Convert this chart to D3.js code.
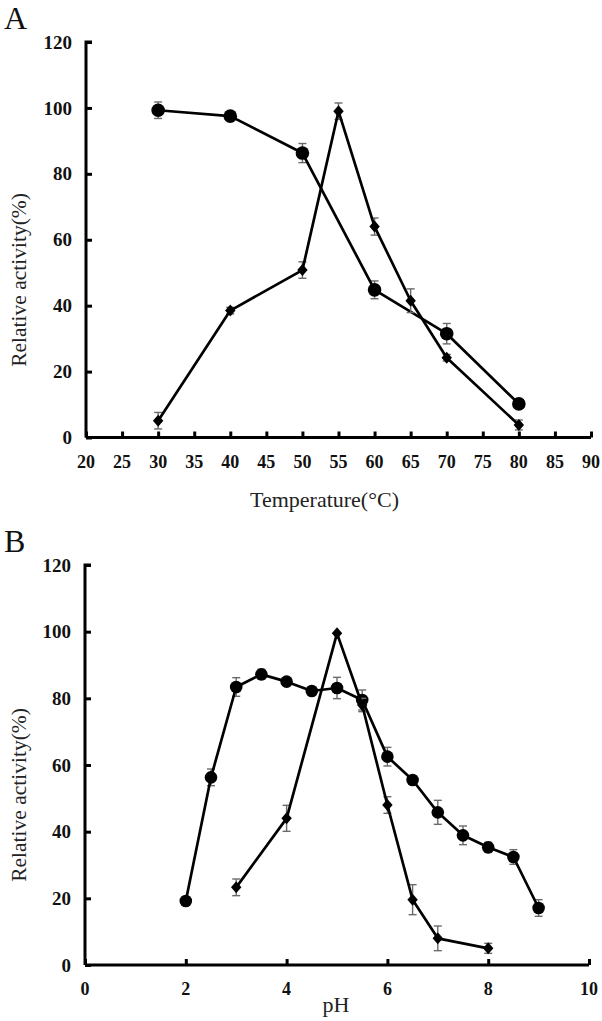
<!DOCTYPE html>
<html><head><meta charset="utf-8">
<script src="https://cdn.jsdelivr.net/npm/d3@7"></script>
<style>body{margin:0;background:#fff}svg{display:block}</style>
</head><body>
<svg id="c" width="602" height="1021"></svg>
<script>
// Panel A: temperature
const tempCircleX = [30, 40, 50, 60, 70, 80];
const tempCircleY = [99.3, 97.5, 86.3, 44.8, 31.5, 10.2];
const tempCircleErr = [2.5, 1, 2.9, 2.7, 3.1, 1.2];
const tempDiamondX = [30, 40, 50, 55, 60, 65, 70, 80];
const tempDiamondY = [5.1, 38.5, 50.8, 99, 64, 41.5, 24.2, 3.8];
const tempDiamondErr = [2.5, 1, 2.5, 2.5, 2.6, 3.6, 1, 1.5];
const tempTicks = [20, 25, 30, 35, 40, 45, 50, 55, 60, 65, 70, 75, 80, 85, 90];
// Panel B: pH
const phCircleX = [2, 2.5, 3, 3.5, 4, 4.5, 5, 5.5, 6, 6.5, 7, 7.5, 8, 8.5, 9];
const phCircleY = [19.2, 56.3, 83.4, 87.2, 85, 82.2, 83.1, 79.5, 62.5, 55.5, 45.8, 38.9, 35.3, 32.4, 17.1];
const phCircleErr = [0.5, 2.5, 2.8, 1.5, 0.5, 0.5, 3.2, 3, 2.8, 0.8, 3.6, 2.8, 1.5, 2.2, 2.5];
const phDiamondX = [3, 4, 5, 5.5, 6, 6.5, 7, 8];
const phDiamondY = [23.3, 44, 99.5, 78, 48, 19.6, 8, 5];
const phDiamondErr = [2.5, 3.9, 0, 2, 2.5, 4.5, 3.7, 1.5];
const phTicks = [0, 2, 4, 6, 8, 10];
const yTicks = [0, 20, 40, 60, 80, 100, 120];

const svg = d3.select("#c");
const serif = "'Liberation Serif','Times New Roman',serif";

function panel(cfg) {
  const x = d3.scaleLinear().domain(cfg.xDomain).range(cfg.xRange);
  const y = d3.scaleLinear().domain([0, 120]).range(cfg.yRange);
  const g = svg.append("g");

  // axes
  const ya = g.append("g").attr("transform", `translate(${cfg.xRange[0]},0)`)
    .call(d3.axisRight(y).tickValues(yTicks).tickSize(6).tickFormat(""));
  ya.select(".domain").attr("d", `M6,${cfg.yRange[1]}H0V${cfg.yRange[0]}`);
  ya.selectAll("path,line").attr("stroke", "#000").attr("stroke-width", 3);

  const xa = g.append("g").attr("transform", `translate(0,${cfg.yRange[0]})`)
    .call(d3.axisTop(x).tickValues(cfg.xTicks).tickSize(6).tickFormat(""));
  xa.select(".domain").attr("d", `M${cfg.xRange[0]},0H${cfg.xRange[1]}`);
  xa.selectAll("path,line").attr("stroke", "#000").attr("stroke-width", 3);

  // tick labels
  g.selectAll(".yl").data(yTicks).join("text")
    .attr("x", cfg.xRange[0] - 14).attr("y", d => y(d)).attr("dy", "0.35em")
    .attr("text-anchor", "end").attr("font-family", serif).attr("font-weight", "bold")
    .attr("font-size", 19).attr("fill", "#111").text(d => d);
  g.selectAll(".xl").data(cfg.xTicks).join("text")
    .attr("x", d => x(d)).attr("y", cfg.yRange[0] + 30)
    .attr("text-anchor", "middle").attr("font-family", serif).attr("font-weight", "bold")
    .attr("font-size", 18).attr("fill", "#111").text(d => d);

  // axis titles
  g.append("text").attr("transform", `translate(26,${cfg.yLabelY}) rotate(-90)`)
    .attr("text-anchor", "middle").attr("font-family", serif).attr("font-size", 21.5)
    .attr("fill", "#222").text("Relative activity(%)");
  g.append("text").attr("x", cfg.xLabelX).attr("y", cfg.xLabelY)
    .attr("text-anchor", "middle").attr("font-family", serif).attr("font-size", 22)
    .attr("fill", "#222").text(cfg.xLabel);
  g.append("text").attr("x", 4).attr("y", cfg.letterY)
    .attr("font-family", serif).attr("font-size", 32).attr("fill", "#111").text(cfg.letter);

  const line = d3.line().x(d => x(d[0])).y(d => y(d[1]));
  function series(xs, ys, es, shape) {
    const pts = xs.map((v, i) => [v, ys[i], es[i]]);
    // error bars
    const eb = g.append("g").attr("stroke", "#6a6a6a").attr("stroke-width", 1.4);
    pts.filter(p => p[2] > 0.4).forEach(p => {
      const cx = x(p[0]), y1 = y(p[1] + p[2]), y2 = y(p[1] - p[2]);
      eb.append("line").attr("x1", cx).attr("x2", cx).attr("y1", y1).attr("y2", y2);
      eb.append("line").attr("x1", cx - 4).attr("x2", cx + 4).attr("y1", y1).attr("y2", y1);
      eb.append("line").attr("x1", cx - 4).attr("x2", cx + 4).attr("y1", y2).attr("y2", y2);
    });
    g.append("path").datum(pts).attr("d", line).attr("fill", "none")
      .attr("stroke", "#000").attr("stroke-width", 2.7).attr("stroke-linejoin", "round");
    if (shape === "circle") {
      g.selectAll(null).data(pts).join("circle")
        .attr("cx", d => x(d[0])).attr("cy", d => y(d[1])).attr("r", cfg.r).attr("fill", "#000");
    } else {
      g.selectAll(null).data(pts).join("path")
        .attr("transform", d => `translate(${x(d[0])},${y(d[1])})`)
        .attr("d", "M0,-6L5.2,0L0,6L-5.2,0Z").attr("fill", "#000");
    }
  }
  cfg.series.forEach(s => series(...s));
}

panel({
  xDomain: [20, 90], xRange: [86, 591], yRange: [437.5, 42], xTicks: tempTicks,
  yLabelY: 280, xLabel: "Temperature(°C)", xLabelX: 324.5, xLabelY: 507,
  letter: "A", letterY: 29, r: 6.8,
  series: [[tempCircleX, tempCircleY, tempCircleErr, "circle"],
           [tempDiamondX, tempDiamondY, tempDiamondErr, "diamond"]]
});
panel({
  xDomain: [0, 10], xRange: [85, 589], yRange: [965, 565], xTicks: phTicks,
  yLabelY: 795, xLabel: "pH", xLabelX: 336, xLabelY: 1012,
  letter: "B", letterY: 552, r: 6.3,
  series: [[phCircleX, phCircleY, phCircleErr, "circle"],
           [phDiamondX, phDiamondY, phDiamondErr, "diamond"]]
});
</script>
</body></html>
